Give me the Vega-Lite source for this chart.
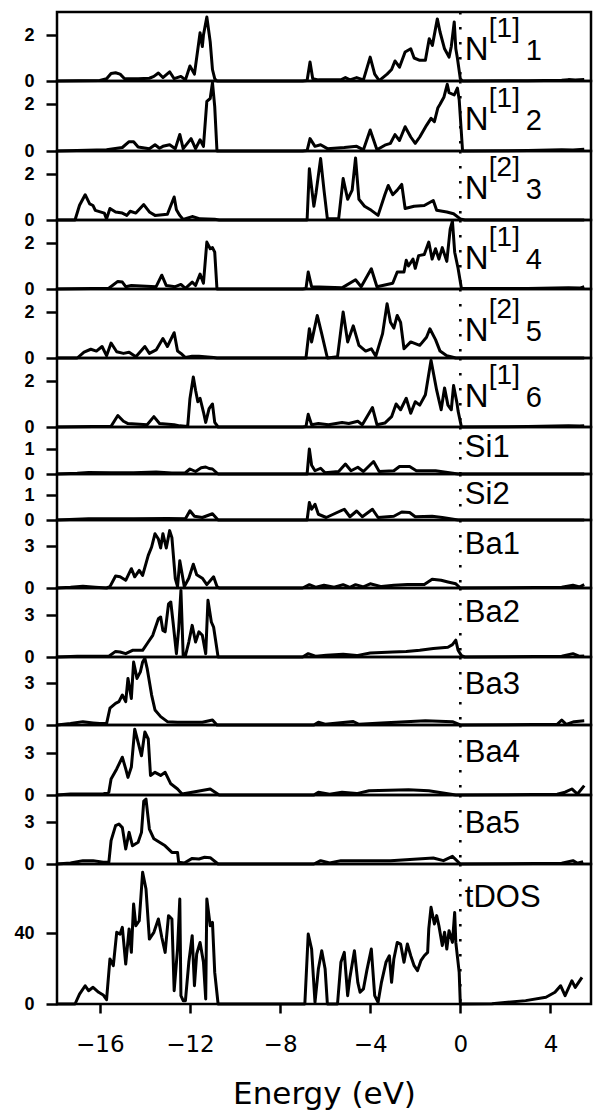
{
"$schema": "https://vega.github.io/schema/vega-lite/v6.json",
"padding": {"left": 12, "top": 9, "right": 2, "bottom": 0},
"background": "white",
"datasets": {
"labels": [
{"p":"N1","base":"N","sup":"[1]","sub":"1"},
{"p":"N2","base":"N","sup":"[1]","sub":"2"},
{"p":"N3","base":"N","sup":"[2]","sub":"3"},
{"p":"N4","base":"N","sup":"[1]","sub":"4"},
{"p":"N5","base":"N","sup":"[2]","sub":"5"},
{"p":"N6","base":"N","sup":"[1]","sub":"6"},
{"p":"Si1","base":"Si1"},
{"p":"Si2","base":"Si2"},
{"p":"Ba1","base":"Ba1"},
{"p":"Ba2","base":"Ba2"},
{"p":"Ba3","base":"Ba3"},
{"p":"Ba4","base":"Ba4"},
{"p":"Ba5","base":"Ba5"},
{"p":"tDOS","base":"tDOS"}
],
"N1": [{"e":-17.9,"v":0},{"e":-16.0,"v":0.02},{"e":-15.7,"v":0.1},{"e":-15.5,"v":0.33},{"e":-15.3,"v":0.36},{"e":-15.1,"v":0.3},{"e":-14.9,"v":0.1},{"e":-14.3,"v":0.1},{"e":-13.8,"v":0.12},{"e":-13.6,"v":0.2},{"e":-13.4,"v":0.35},{"e":-13.2,"v":0.15},{"e":-12.9,"v":0.4},{"e":-12.7,"v":0.1},{"e":-12.4,"v":0.2},{"e":-12.2,"v":0.05},{"e":-12.0,"v":0.65},{"e":-11.8,"v":0.3},{"e":-11.55,"v":2.1},{"e":-11.45,"v":1.5},{"e":-11.4,"v":2.0},{"e":-11.25,"v":2.78},{"e":-11.1,"v":1.7},{"e":-11.0,"v":0.5},{"e":-10.9,"v":0.1},{"e":-10.8,"v":0},{"e":-7.0,"v":0},{"e":-6.8,"v":0.02},{"e":-6.67,"v":0.83},{"e":-6.55,"v":0.1},{"e":-6.3,"v":0.05},{"e":-5.3,"v":0.05},{"e":-5.1,"v":0.15},{"e":-4.9,"v":0.05},{"e":-4.6,"v":0.15},{"e":-4.3,"v":0.05},{"e":-4.0,"v":1.04},{"e":-3.8,"v":0.3},{"e":-3.6,"v":0.02},{"e":-3.25,"v":0.3},{"e":-3.05,"v":0.5},{"e":-2.9,"v":0.87},{"e":-2.7,"v":0.6},{"e":-2.45,"v":1.26},{"e":-2.2,"v":1.4},{"e":-2.05,"v":1.0},{"e":-1.8,"v":0.9},{"e":-1.55,"v":0.9},{"e":-1.38,"v":1.84},{"e":-1.24,"v":1.55},{"e":-1.02,"v":2.7},{"e":-0.9,"v":2.13},{"e":-0.7,"v":1.4},{"e":-0.5,"v":1.04},{"e":-0.4,"v":1.5},{"e":-0.27,"v":2.57},{"e":-0.2,"v":1.4},{"e":-0.13,"v":1.0},{"e":0.0,"v":0.1},{"e":0.1,"v":0},{"e":3.0,"v":0.01},{"e":4.5,"v":0.03},{"e":4.8,"v":0.06},{"e":5.1,"v":0.04},{"e":5.5,"v":0.07}],
"N2": [{"e":-17.9,"v":0},{"e":-15.7,"v":0.05},{"e":-15.0,"v":0.15},{"e":-14.7,"v":0.4},{"e":-14.5,"v":0.4},{"e":-14.3,"v":0.17},{"e":-13.8,"v":0.1},{"e":-13.55,"v":0.27},{"e":-13.35,"v":0.12},{"e":-13.2,"v":0.2},{"e":-12.9,"v":0.27},{"e":-12.65,"v":0.1},{"e":-12.45,"v":0.71},{"e":-12.3,"v":0.1},{"e":-11.95,"v":0.53},{"e":-11.75,"v":0.1},{"e":-11.55,"v":0.48},{"e":-11.4,"v":0.2},{"e":-11.25,"v":2.13},{"e":-11.1,"v":2.25},{"e":-11.0,"v":2.93},{"e":-10.9,"v":1.9},{"e":-10.8,"v":0},{"e":-7.0,"v":0},{"e":-6.8,"v":0.02},{"e":-6.67,"v":0.53},{"e":-6.45,"v":0.2},{"e":-6.2,"v":0.27},{"e":-5.9,"v":0.1},{"e":-5.15,"v":0.15},{"e":-4.6,"v":0.2},{"e":-4.3,"v":0.05},{"e":-4.0,"v":0.9},{"e":-3.7,"v":0.05},{"e":-3.35,"v":0.25},{"e":-3.1,"v":0.33},{"e":-2.9,"v":0.7},{"e":-2.7,"v":0.45},{"e":-2.45,"v":1.04},{"e":-2.2,"v":0.6},{"e":-2.0,"v":0.33},{"e":-1.8,"v":0.6},{"e":-1.5,"v":1.1},{"e":-1.3,"v":1.4},{"e":-1.15,"v":1.26},{"e":-1.0,"v":1.84},{"e":-0.9,"v":2.0},{"e":-0.73,"v":2.3},{"e":-0.58,"v":2.86},{"e":-0.5,"v":2.5},{"e":-0.27,"v":2.4},{"e":-0.13,"v":2.7},{"e":-0.05,"v":2.2},{"e":0.1,"v":0},{"e":3.0,"v":0.02},{"e":4.5,"v":0.05},{"e":5.0,"v":0.04},{"e":5.5,"v":0.07}],
"N3": [{"e":-17.9,"v":0},{"e":-17.1,"v":0},{"e":-16.9,"v":0.64},{"e":-16.65,"v":1.1},{"e":-16.45,"v":0.7},{"e":-16.3,"v":0.63},{"e":-16.2,"v":0.42},{"e":-15.8,"v":0.3},{"e":-15.7,"v":0.05},{"e":-15.55,"v":0.5},{"e":-15.3,"v":0.35},{"e":-15.0,"v":0.3},{"e":-14.8,"v":0.2},{"e":-14.65,"v":0.38},{"e":-14.4,"v":0.3},{"e":-14.05,"v":0.67},{"e":-13.8,"v":0.35},{"e":-13.55,"v":0.2},{"e":-13.0,"v":0.25},{"e":-12.7,"v":1.0},{"e":-12.6,"v":0.45},{"e":-12.45,"v":0.2},{"e":-12.3,"v":0.02},{"e":-11.9,"v":0.15},{"e":-11.55,"v":0.05},{"e":-10.9,"v":0.03},{"e":-10.7,"v":0},{"e":-6.8,"v":0},{"e":-6.7,"v":2.23},{"e":-6.5,"v":0.6},{"e":-6.4,"v":1.2},{"e":-6.2,"v":2.67},{"e":-6.05,"v":1.3},{"e":-5.9,"v":0.05},{"e":-5.4,"v":0.05},{"e":-5.2,"v":1.8},{"e":-5.0,"v":0.9},{"e":-4.8,"v":1.3},{"e":-4.65,"v":2.7},{"e":-4.5,"v":0.9},{"e":-4.25,"v":0.6},{"e":-3.95,"v":0.42},{"e":-3.65,"v":0.2},{"e":-3.35,"v":1.1},{"e":-3.2,"v":1.5},{"e":-3.0,"v":1.1},{"e":-2.8,"v":1.3},{"e":-2.6,"v":1.55},{"e":-2.45,"v":0.5},{"e":-2.05,"v":0.6},{"e":-1.6,"v":0.63},{"e":-1.2,"v":0.85},{"e":-1.05,"v":0.42},{"e":-0.6,"v":0.35},{"e":-0.3,"v":0.27},{"e":0.0,"v":0.05},{"e":0.2,"v":0},{"e":5.5,"v":0}],
"N4": [{"e":-17.9,"v":0},{"e":-15.6,"v":0.03},{"e":-15.2,"v":0.33},{"e":-15.0,"v":0.3},{"e":-14.85,"v":0.1},{"e":-14.6,"v":0.15},{"e":-13.5,"v":0.1},{"e":-13.25,"v":0.6},{"e":-13.05,"v":0.15},{"e":-12.65,"v":0.1},{"e":-12.4,"v":0.2},{"e":-12.2,"v":0.03},{"e":-11.9,"v":0.3},{"e":-11.75,"v":0.15},{"e":-11.55,"v":0.65},{"e":-11.4,"v":0.25},{"e":-11.25,"v":2.04},{"e":-11.1,"v":1.75},{"e":-11.0,"v":1.8},{"e":-10.9,"v":1.6},{"e":-10.8,"v":0},{"e":-7.0,"v":0},{"e":-6.85,"v":0.02},{"e":-6.75,"v":0.74},{"e":-6.6,"v":0.1},{"e":-5.25,"v":0.05},{"e":-4.65,"v":0.4},{"e":-4.4,"v":0.1},{"e":-3.95,"v":0.88},{"e":-3.7,"v":0.1},{"e":-3.0,"v":0.25},{"e":-2.8,"v":0.74},{"e":-2.5,"v":0.74},{"e":-2.4,"v":1.25},{"e":-2.3,"v":1.0},{"e":-2.1,"v":1.3},{"e":-2.0,"v":0.9},{"e":-1.85,"v":1.45},{"e":-1.6,"v":1.5},{"e":-1.4,"v":2.04},{"e":-1.25,"v":1.3},{"e":-1.1,"v":1.75},{"e":-0.95,"v":1.3},{"e":-0.8,"v":1.8},{"e":-0.6,"v":1.2},{"e":-0.45,"v":2.6},{"e":-0.35,"v":2.95},{"e":-0.25,"v":1.6},{"e":-0.1,"v":0.9},{"e":0.05,"v":0.02},{"e":3.0,"v":0.02},{"e":4.8,"v":0.05},{"e":5.3,"v":0.04},{"e":5.5,"v":0.1}],
"N5": [{"e":-17.9,"v":0},{"e":-17.0,"v":0},{"e":-16.7,"v":0.26},{"e":-16.4,"v":0.38},{"e":-16.15,"v":0.3},{"e":-15.9,"v":0.5},{"e":-15.7,"v":0.1},{"e":-15.5,"v":0.65},{"e":-15.25,"v":0.27},{"e":-14.95,"v":0.2},{"e":-14.7,"v":0.25},{"e":-14.4,"v":0.05},{"e":-14.0,"v":0.5},{"e":-13.8,"v":0.2},{"e":-13.5,"v":0.35},{"e":-13.2,"v":0.85},{"e":-13.0,"v":0.5},{"e":-12.7,"v":1.1},{"e":-12.55,"v":0.3},{"e":-12.4,"v":0.2},{"e":-12.2,"v":0.02},{"e":-11.9,"v":0.08},{"e":-11.6,"v":0.08},{"e":-10.95,"v":0.02},{"e":-10.8,"v":0},{"e":-6.85,"v":0},{"e":-6.7,"v":1.27},{"e":-6.6,"v":0.7},{"e":-6.35,"v":1.85},{"e":-6.15,"v":1.05},{"e":-5.9,"v":0},{"e":-5.45,"v":0.05},{"e":-5.2,"v":2.0},{"e":-5.0,"v":0.7},{"e":-4.75,"v":1.4},{"e":-4.5,"v":0.55},{"e":-4.2,"v":0.3},{"e":-3.95,"v":0.4},{"e":-3.75,"v":0.08},{"e":-3.45,"v":1.06},{"e":-3.25,"v":2.36},{"e":-3.1,"v":1.55},{"e":-2.95,"v":1.3},{"e":-2.8,"v":1.85},{"e":-2.65,"v":1.55},{"e":-2.5,"v":0.4},{"e":-2.2,"v":0.7},{"e":-1.8,"v":0.55},{"e":-1.5,"v":0.9},{"e":-1.35,"v":1.27},{"e":-1.1,"v":0.8},{"e":-0.9,"v":0.3},{"e":-0.6,"v":0.1},{"e":-0.2,"v":0},{"e":5.5,"v":0}],
"N6": [{"e":-17.9,"v":0},{"e":-15.5,"v":0.03},{"e":-15.2,"v":0.5},{"e":-14.95,"v":0.25},{"e":-14.75,"v":0.15},{"e":-13.9,"v":0.1},{"e":-13.6,"v":0.45},{"e":-13.35,"v":0.15},{"e":-12.7,"v":0.1},{"e":-12.45,"v":0.05},{"e":-12.1,"v":0.02},{"e":-12.0,"v":1.23},{"e":-11.85,"v":2.17},{"e":-11.75,"v":1.6},{"e":-11.65,"v":1.1},{"e":-11.55,"v":1.25},{"e":-11.4,"v":0.65},{"e":-11.3,"v":0.2},{"e":-11.15,"v":0.8},{"e":-11.0,"v":1.0},{"e":-10.9,"v":0.2},{"e":-10.75,"v":0},{"e":-7.0,"v":0},{"e":-6.85,"v":0.02},{"e":-6.75,"v":0.55},{"e":-6.6,"v":0.1},{"e":-6.3,"v":0.15},{"e":-5.85,"v":0.1},{"e":-5.25,"v":0.2},{"e":-4.95,"v":0.15},{"e":-4.55,"v":0.25},{"e":-4.35,"v":0.1},{"e":-3.9,"v":0.85},{"e":-3.7,"v":0.1},{"e":-3.35,"v":0.17},{"e":-3.05,"v":0.45},{"e":-2.85,"v":1.0},{"e":-2.65,"v":0.75},{"e":-2.4,"v":1.25},{"e":-2.2,"v":0.6},{"e":-2.0,"v":1.1},{"e":-1.8,"v":0.95},{"e":-1.55,"v":1.4},{"e":-1.3,"v":2.9},{"e":-1.05,"v":1.6},{"e":-0.85,"v":0.75},{"e":-0.7,"v":1.7},{"e":-0.55,"v":0.95},{"e":-0.4,"v":0.75},{"e":-0.3,"v":1.8},{"e":-0.15,"v":1.05},{"e":-0.1,"v":0.7},{"e":0.05,"v":0},{"e":3.0,"v":0.02},{"e":4.8,"v":0.05},{"e":5.3,"v":0.04},{"e":5.5,"v":0.06}],
"Si1": [{"e":-17.9,"v":0},{"e":-17.0,"v":0.03},{"e":-16.5,"v":0.06},{"e":-15.5,"v":0.05},{"e":-14.5,"v":0.05},{"e":-13.5,"v":0.08},{"e":-12.8,"v":0.04},{"e":-12.2,"v":0.05},{"e":-12.0,"v":0.2},{"e":-11.75,"v":0.1},{"e":-11.5,"v":0.25},{"e":-11.3,"v":0.28},{"e":-11.15,"v":0.22},{"e":-11.0,"v":0.2},{"e":-10.75,"v":0},{"e":-6.8,"v":0},{"e":-6.7,"v":1.0},{"e":-6.6,"v":0.35},{"e":-6.45,"v":0.13},{"e":-6.2,"v":0.23},{"e":-6.0,"v":0.05},{"e":-5.4,"v":0.1},{"e":-5.1,"v":0.4},{"e":-4.85,"v":0.13},{"e":-4.55,"v":0.27},{"e":-4.3,"v":0.1},{"e":-3.85,"v":0.5},{"e":-3.6,"v":0.1},{"e":-2.95,"v":0.13},{"e":-2.7,"v":0.3},{"e":-2.25,"v":0.3},{"e":-1.95,"v":0.13},{"e":-1.1,"v":0.13},{"e":-0.1,"v":0},{"e":5.5,"v":0}],
"Si2": [{"e":-17.9,"v":0},{"e":-16.5,"v":0.05},{"e":-14.5,"v":0.05},{"e":-13.0,"v":0.06},{"e":-12.2,"v":0.05},{"e":-12.0,"v":0.37},{"e":-11.8,"v":0.15},{"e":-11.45,"v":0.1},{"e":-11.0,"v":0.25},{"e":-10.75,"v":0},{"e":-6.8,"v":0},{"e":-6.7,"v":0.7},{"e":-6.6,"v":0.43},{"e":-6.45,"v":0.63},{"e":-6.3,"v":0.23},{"e":-5.95,"v":0.1},{"e":-5.15,"v":0.43},{"e":-4.9,"v":0.13},{"e":-4.6,"v":0.36},{"e":-4.35,"v":0.13},{"e":-3.9,"v":0.43},{"e":-3.65,"v":0.1},{"e":-2.95,"v":0.15},{"e":-2.6,"v":0.32},{"e":-2.25,"v":0.3},{"e":-2.0,"v":0.13},{"e":-1.25,"v":0.15},{"e":-0.8,"v":0.1},{"e":-0.1,"v":0},{"e":5.5,"v":0}],
"Ba1": [{"e":-17.9,"v":0},{"e":-17.3,"v":0.05},{"e":-16.75,"v":0.12},{"e":-16.2,"v":0.05},{"e":-15.7,"v":0},{"e":-15.55,"v":0.1},{"e":-15.3,"v":0.86},{"e":-15.1,"v":0.8},{"e":-14.85,"v":0.55},{"e":-14.6,"v":1.38},{"e":-14.45,"v":0.8},{"e":-14.25,"v":1.26},{"e":-14.1,"v":0.9},{"e":-13.85,"v":2.33},{"e":-13.7,"v":2.93},{"e":-13.55,"v":3.88},{"e":-13.4,"v":3.5},{"e":-13.3,"v":2.86},{"e":-13.2,"v":3.88},{"e":-13.05,"v":2.86},{"e":-12.9,"v":4.1},{"e":-12.8,"v":3.6},{"e":-12.65,"v":0.67},{"e":-12.55,"v":0.1},{"e":-12.45,"v":1.95},{"e":-12.25,"v":0.1},{"e":-12.05,"v":0.7},{"e":-11.85,"v":1.7},{"e":-11.7,"v":0.95},{"e":-11.45,"v":0.7},{"e":-11.25,"v":0.24},{"e":-10.95,"v":0.8},{"e":-10.8,"v":0.1},{"e":-10.7,"v":0},{"e":-7.0,"v":0},{"e":-6.7,"v":0.24},{"e":-6.4,"v":0.05},{"e":-6.05,"v":0.2},{"e":-5.6,"v":0.05},{"e":-5.2,"v":0.24},{"e":-4.9,"v":0.05},{"e":-4.65,"v":0.24},{"e":-4.3,"v":0.08},{"e":-4.0,"v":0.3},{"e":-3.5,"v":0.1},{"e":-2.95,"v":0.2},{"e":-2.35,"v":0.25},{"e":-1.6,"v":0.25},{"e":-1.25,"v":0.62},{"e":-0.85,"v":0.55},{"e":-0.55,"v":0.43},{"e":-0.2,"v":0.3},{"e":0.0,"v":0},{"e":4.5,"v":0.05},{"e":5.0,"v":0.2},{"e":5.3,"v":0.08},{"e":5.5,"v":0.24}],
"Ba2": [{"e":-17.9,"v":0},{"e":-17.0,"v":0.05},{"e":-15.6,"v":0.05},{"e":-15.3,"v":0.4},{"e":-15.1,"v":0.36},{"e":-14.85,"v":0.24},{"e":-14.55,"v":0.48},{"e":-14.1,"v":0.48},{"e":-13.85,"v":1.07},{"e":-13.65,"v":1.55},{"e":-13.4,"v":2.74},{"e":-13.3,"v":2.86},{"e":-13.2,"v":1.9},{"e":-13.1,"v":1.8},{"e":-12.95,"v":3.8},{"e":-12.85,"v":3.93},{"e":-12.75,"v":2.5},{"e":-12.6,"v":0.24},{"e":-12.5,"v":2.0},{"e":-12.4,"v":4.76},{"e":-12.3,"v":0.1},{"e":-12.2,"v":0.1},{"e":-12.05,"v":1.07},{"e":-11.9,"v":2.26},{"e":-11.75,"v":1.07},{"e":-11.6,"v":1.8},{"e":-11.45,"v":1.55},{"e":-11.3,"v":0.24},{"e":-11.2,"v":4.05},{"e":-11.05,"v":2.5},{"e":-10.95,"v":2.14},{"e":-10.75,"v":0},{"e":-7.0,"v":0},{"e":-6.75,"v":0.24},{"e":-6.4,"v":0.05},{"e":-5.95,"v":0.12},{"e":-5.2,"v":0.2},{"e":-4.6,"v":0.1},{"e":-4.0,"v":0.29},{"e":-3.0,"v":0.36},{"e":-2.4,"v":0.4},{"e":-1.8,"v":0.48},{"e":-1.2,"v":0.6},{"e":-0.55,"v":0.7},{"e":-0.35,"v":0.88},{"e":-0.2,"v":1.2},{"e":-0.1,"v":0.48},{"e":0.05,"v":0.1},{"e":0.2,"v":0},{"e":4.5,"v":0.05},{"e":5.0,"v":0.24},{"e":5.3,"v":0.05},{"e":5.5,"v":0.08}],
"Ba3": [{"e":-17.9,"v":0},{"e":-17.3,"v":0.1},{"e":-16.75,"v":0.24},{"e":-16.3,"v":0.15},{"e":-16.0,"v":0.1},{"e":-15.7,"v":0.1},{"e":-15.55,"v":1.2},{"e":-15.3,"v":1.55},{"e":-15.15,"v":1.67},{"e":-15.0,"v":2.14},{"e":-14.85,"v":1.67},{"e":-14.75,"v":3.33},{"e":-14.6,"v":1.9},{"e":-14.5,"v":4.5},{"e":-14.35,"v":3.33},{"e":-14.2,"v":3.8},{"e":-14.1,"v":4.5},{"e":-14.0,"v":4.76},{"e":-13.9,"v":4.05},{"e":-13.7,"v":2.14},{"e":-13.55,"v":1.07},{"e":-13.3,"v":0.6},{"e":-13.0,"v":0.24},{"e":-12.55,"v":0.2},{"e":-11.9,"v":0.2},{"e":-11.45,"v":0.2},{"e":-11.0,"v":0.36},{"e":-10.8,"v":0},{"e":-6.5,"v":0},{"e":-6.3,"v":0.2},{"e":-6.0,"v":0.05},{"e":-4.75,"v":0.25},{"e":-4.5,"v":0.05},{"e":-3.5,"v":0.15},{"e":-1.55,"v":0.3},{"e":-0.35,"v":0.24},{"e":0.0,"v":0},{"e":4.3,"v":0.05},{"e":4.5,"v":0.36},{"e":4.7,"v":0.05},{"e":5.05,"v":0.24},{"e":5.5,"v":0.3}],
"Ba4": [{"e":-17.9,"v":0},{"e":-17.3,"v":0.07},{"e":-15.85,"v":0.07},{"e":-15.6,"v":0.2},{"e":-15.5,"v":1.14},{"e":-15.25,"v":1.86},{"e":-15.0,"v":2.7},{"e":-14.85,"v":1.86},{"e":-14.75,"v":1.26},{"e":-14.6,"v":2.0},{"e":-14.45,"v":4.7},{"e":-14.3,"v":3.76},{"e":-14.15,"v":2.8},{"e":-14.0,"v":4.5},{"e":-13.85,"v":4.0},{"e":-13.75,"v":1.4},{"e":-13.55,"v":1.62},{"e":-13.3,"v":1.4},{"e":-13.1,"v":1.62},{"e":-12.85,"v":0.8},{"e":-12.55,"v":0.43},{"e":-12.35,"v":0.07},{"e":-11.9,"v":0.2},{"e":-11.1,"v":0.43},{"e":-10.7,"v":0},{"e":-6.5,"v":0},{"e":-6.3,"v":0.2},{"e":-5.8,"v":0.05},{"e":-5.25,"v":0.2},{"e":-4.6,"v":0.1},{"e":-4.05,"v":0.3},{"e":-2.3,"v":0.38},{"e":-1.4,"v":0.3},{"e":-0.2,"v":0},{"e":4.3,"v":0.05},{"e":4.65,"v":0.2},{"e":4.95,"v":0.43},{"e":5.2,"v":0.07},{"e":5.5,"v":0.67}],
"Ba5": [{"e":-17.9,"v":0},{"e":-17.3,"v":0.07},{"e":-16.75,"v":0.24},{"e":-16.3,"v":0.24},{"e":-15.85,"v":0.12},{"e":-15.6,"v":0.12},{"e":-15.5,"v":1.67},{"e":-15.3,"v":2.74},{"e":-15.15,"v":2.86},{"e":-15.0,"v":2.6},{"e":-14.85,"v":1.07},{"e":-14.7,"v":2.26},{"e":-14.55,"v":1.3},{"e":-14.3,"v":1.55},{"e":-14.15,"v":2.26},{"e":-14.05,"v":4.5},{"e":-13.95,"v":4.64},{"e":-13.8,"v":2.5},{"e":-13.6,"v":1.8},{"e":-13.35,"v":1.55},{"e":-13.1,"v":1.3},{"e":-12.8,"v":0.83},{"e":-12.55,"v":0.83},{"e":-12.5,"v":0.12},{"e":-12.25,"v":0.07},{"e":-11.9,"v":0.4},{"e":-11.6,"v":0.36},{"e":-11.35,"v":0.48},{"e":-11.1,"v":0.45},{"e":-10.75,"v":0},{"e":-6.5,"v":0},{"e":-6.2,"v":0.24},{"e":-5.8,"v":0.07},{"e":-5.3,"v":0.24},{"e":-4.75,"v":0.24},{"e":-3.1,"v":0.24},{"e":-1.2,"v":0.43},{"e":-0.75,"v":0.24},{"e":-0.35,"v":0.55},{"e":0.0,"v":0},{"e":4.5,"v":0.05},{"e":5.0,"v":0.24},{"e":5.2,"v":0.05},{"e":5.45,"v":0.17}],
"tDOS": [{"e":-17.9,"v":0},{"e":-17.1,"v":0},{"e":-16.9,"v":5.6},{"e":-16.65,"v":10.3},{"e":-16.5,"v":7.5},{"e":-16.3,"v":9.4},{"e":-16.05,"v":6.6},{"e":-15.85,"v":5.1},{"e":-15.7,"v":2.4},{"e":-15.55,"v":25.4},{"e":-15.4,"v":21.6},{"e":-15.25,"v":40.4},{"e":-15.1,"v":39.4},{"e":-15.0,"v":43.2},{"e":-14.85,"v":22.5},{"e":-14.7,"v":42.3},{"e":-14.6,"v":29.1},{"e":-14.5,"v":56.3},{"e":-14.4,"v":44.1},{"e":-14.25,"v":46.9},{"e":-14.1,"v":74.2},{"e":-13.95,"v":64.8},{"e":-13.8,"v":36.6},{"e":-13.6,"v":40.4},{"e":-13.4,"v":47.9},{"e":-13.25,"v":37.6},{"e":-13.1,"v":29.1},{"e":-12.95,"v":49.8},{"e":-12.8,"v":47.9},{"e":-12.7,"v":7.5},{"e":-12.55,"v":31.0},{"e":-12.45,"v":59.2},{"e":-12.4,"v":4.7},{"e":-12.3,"v":1.9},{"e":-12.2,"v":1.9},{"e":-12.05,"v":23.5},{"e":-11.9,"v":38.5},{"e":-11.8,"v":10.3},{"e":-11.7,"v":28.2},{"e":-11.55,"v":34.7},{"e":-11.4,"v":23.5},{"e":-11.3,"v":2.8},{"e":-11.25,"v":59.2},{"e":-11.1,"v":44.1},{"e":-11.0,"v":46.0},{"e":-10.9,"v":17.8},{"e":-10.75,"v":0},{"e":-6.9,"v":0},{"e":-6.75,"v":39.4},{"e":-6.6,"v":31.0},{"e":-6.45,"v":1},{"e":-6.3,"v":19.7},{"e":-6.15,"v":30.0},{"e":-6.0,"v":19.7},{"e":-5.9,"v":0},{"e":-5.45,"v":0},{"e":-5.3,"v":23.5},{"e":-5.15,"v":29.1},{"e":-5.0,"v":4.7},{"e":-4.9,"v":15.0},{"e":-4.7,"v":30.0},{"e":-4.55,"v":12.2},{"e":-4.45,"v":6.6},{"e":-4.3,"v":8.5},{"e":-4.15,"v":18.8},{"e":-3.95,"v":31.0},{"e":-3.8,"v":4.7},{"e":-3.65,"v":1},{"e":-3.5,"v":12.2},{"e":-3.3,"v":23.5},{"e":-3.15,"v":27.2},{"e":-3.05,"v":12.2},{"e":-2.95,"v":25.4},{"e":-2.8,"v":34.7},{"e":-2.65,"v":33.8},{"e":-2.5,"v":23.5},{"e":-2.35,"v":33.8},{"e":-2.2,"v":27.2},{"e":-2.05,"v":21.6},{"e":-1.9,"v":18.8},{"e":-1.75,"v":24.4},{"e":-1.6,"v":27.2},{"e":-1.45,"v":29.1},{"e":-1.4,"v":42.3},{"e":-1.3,"v":54.5},{"e":-1.15,"v":45.1},{"e":-1.05,"v":49.8},{"e":-0.95,"v":44.1},{"e":-0.8,"v":32.9},{"e":-0.7,"v":40.4},{"e":-0.6,"v":31.0},{"e":-0.5,"v":41.3},{"e":-0.35,"v":34.7},{"e":-0.25,"v":51.6},{"e":-0.2,"v":34.7},{"e":-0.05,"v":17.8},{"e":0.0,"v":0},{"e":1.4,"v":0.2},{"e":2.9,"v":1.9},{"e":3.8,"v":3.8},{"e":4.2,"v":6.6},{"e":4.45,"v":10.3},{"e":4.65,"v":4.7},{"e":4.95,"v":13.1},{"e":5.1,"v":9.4},{"e":5.4,"v":15.0}]
},
"vconcat": [
{"width":534,"height":69,"layer":[
 {"data":{"name":"N1"},"mark":{"type":"line","color":"black","strokeWidth":3,"strokeJoin":"round"},"encoding":{"x":{"field":"e","type":"quantitative","scale":{"domain":[-17.9,5.8],"nice":false,"zero":false},"axis":null},"y":{"field":"v","type":"quantitative","scale":{"domain":[0,3],"nice":false},"axis":{"values":[0,2]}}}},
 {"data":{"name":"labels"},"transform":[{"filter":"datum.p==='N1'"}],"mark":{"type":"rule","color":"black","strokeWidth":2.6,"strokeDash":[2.6,12.4]},"encoding":{"x":{"datum":0,"axis":null}}},
 {"data":{"name":"labels"},"transform":[{"filter":"datum.p==='N1'"}],"mark":{"type":"text","font":"Liberation Sans","fontSize":33,"align":"left","baseline":"alphabetic","color":"black"},"encoding":{"x":{"datum":0.2,"axis":null},"y":{"datum":0.9},"text":{"field":"base"}}},
 {"data":{"name":"labels"},"transform":[{"filter":"datum.p==='N1'"}],"mark":{"type":"text","font":"Liberation Sans","fontSize":28,"align":"left","baseline":"alphabetic","dx":24,"dy":-23,"color":"black"},"encoding":{"x":{"datum":0.2,"axis":null},"y":{"datum":0.9},"text":{"field":"sup"}}},
 {"data":{"name":"labels"},"transform":[{"filter":"datum.p==='N1'"}],"mark":{"type":"text","font":"Liberation Sans","fontSize":29,"align":"left","baseline":"alphabetic","dx":61,"color":"black"},"encoding":{"x":{"datum":0.2,"axis":null},"y":{"datum":0.9},"text":{"field":"sub"}}}
]},
{"width":534,"height":70,"layer":[
 {"data":{"name":"N2"},"mark":{"type":"line","color":"black","strokeWidth":3,"strokeJoin":"round"},"encoding":{"x":{"field":"e","type":"quantitative","scale":{"domain":[-17.9,5.8],"nice":false,"zero":false},"axis":null},"y":{"field":"v","type":"quantitative","scale":{"domain":[0,3],"nice":false},"axis":{"values":[0,2]}}}},
 {"data":{"name":"labels"},"transform":[{"filter":"datum.p==='N2'"}],"mark":{"type":"rule","color":"black","strokeWidth":2.6,"strokeDash":[2.6,12.4]},"encoding":{"x":{"datum":0,"axis":null}}},
 {"data":{"name":"labels"},"transform":[{"filter":"datum.p==='N2'"}],"mark":{"type":"text","font":"Liberation Sans","fontSize":33,"align":"left","baseline":"alphabetic","color":"black"},"encoding":{"x":{"datum":0.2,"axis":null},"y":{"datum":0.9},"text":{"field":"base"}}},
 {"data":{"name":"labels"},"transform":[{"filter":"datum.p==='N2'"}],"mark":{"type":"text","font":"Liberation Sans","fontSize":28,"align":"left","baseline":"alphabetic","dx":24,"dy":-23,"color":"black"},"encoding":{"x":{"datum":0.2,"axis":null},"y":{"datum":0.9},"text":{"field":"sup"}}},
 {"data":{"name":"labels"},"transform":[{"filter":"datum.p==='N2'"}],"mark":{"type":"text","font":"Liberation Sans","fontSize":29,"align":"left","baseline":"alphabetic","dx":61,"color":"black"},"encoding":{"x":{"datum":0.2,"axis":null},"y":{"datum":0.9},"text":{"field":"sub"}}}
]},
{"width":534,"height":69,"layer":[
 {"data":{"name":"N3"},"mark":{"type":"line","color":"black","strokeWidth":3,"strokeJoin":"round"},"encoding":{"x":{"field":"e","type":"quantitative","scale":{"domain":[-17.9,5.8],"nice":false,"zero":false},"axis":null},"y":{"field":"v","type":"quantitative","scale":{"domain":[0,3],"nice":false},"axis":{"values":[0,2]}}}},
 {"data":{"name":"labels"},"transform":[{"filter":"datum.p==='N3'"}],"mark":{"type":"rule","color":"black","strokeWidth":2.6,"strokeDash":[2.6,12.4]},"encoding":{"x":{"datum":0,"axis":null}}},
 {"data":{"name":"labels"},"transform":[{"filter":"datum.p==='N3'"}],"mark":{"type":"text","font":"Liberation Sans","fontSize":33,"align":"left","baseline":"alphabetic","color":"black"},"encoding":{"x":{"datum":0.2,"axis":null},"y":{"datum":0.9},"text":{"field":"base"}}},
 {"data":{"name":"labels"},"transform":[{"filter":"datum.p==='N3'"}],"mark":{"type":"text","font":"Liberation Sans","fontSize":28,"align":"left","baseline":"alphabetic","dx":24,"dy":-23,"color":"black"},"encoding":{"x":{"datum":0.2,"axis":null},"y":{"datum":0.9},"text":{"field":"sup"}}},
 {"data":{"name":"labels"},"transform":[{"filter":"datum.p==='N3'"}],"mark":{"type":"text","font":"Liberation Sans","fontSize":29,"align":"left","baseline":"alphabetic","dx":61,"color":"black"},"encoding":{"x":{"datum":0.2,"axis":null},"y":{"datum":0.9},"text":{"field":"sub"}}}
]},
{"width":534,"height":69,"layer":[
 {"data":{"name":"N4"},"mark":{"type":"line","color":"black","strokeWidth":3,"strokeJoin":"round"},"encoding":{"x":{"field":"e","type":"quantitative","scale":{"domain":[-17.9,5.8],"nice":false,"zero":false},"axis":null},"y":{"field":"v","type":"quantitative","scale":{"domain":[0,3],"nice":false},"axis":{"values":[0,2]}}}},
 {"data":{"name":"labels"},"transform":[{"filter":"datum.p==='N4'"}],"mark":{"type":"rule","color":"black","strokeWidth":2.6,"strokeDash":[2.6,12.4]},"encoding":{"x":{"datum":0,"axis":null}}},
 {"data":{"name":"labels"},"transform":[{"filter":"datum.p==='N4'"}],"mark":{"type":"text","font":"Liberation Sans","fontSize":33,"align":"left","baseline":"alphabetic","color":"black"},"encoding":{"x":{"datum":0.2,"axis":null},"y":{"datum":0.87},"text":{"field":"base"}}},
 {"data":{"name":"labels"},"transform":[{"filter":"datum.p==='N4'"}],"mark":{"type":"text","font":"Liberation Sans","fontSize":28,"align":"left","baseline":"alphabetic","dx":24,"dy":-23,"color":"black"},"encoding":{"x":{"datum":0.2,"axis":null},"y":{"datum":0.87},"text":{"field":"sup"}}},
 {"data":{"name":"labels"},"transform":[{"filter":"datum.p==='N4'"}],"mark":{"type":"text","font":"Liberation Sans","fontSize":29,"align":"left","baseline":"alphabetic","dx":61,"color":"black"},"encoding":{"x":{"datum":0.2,"axis":null},"y":{"datum":0.87},"text":{"field":"sub"}}}
]},
{"width":534,"height":69,"layer":[
 {"data":{"name":"N5"},"mark":{"type":"line","color":"black","strokeWidth":3,"strokeJoin":"round"},"encoding":{"x":{"field":"e","type":"quantitative","scale":{"domain":[-17.9,5.8],"nice":false,"zero":false},"axis":null},"y":{"field":"v","type":"quantitative","scale":{"domain":[0,3],"nice":false},"axis":{"values":[0,2]}}}},
 {"data":{"name":"labels"},"transform":[{"filter":"datum.p==='N5'"}],"mark":{"type":"rule","color":"black","strokeWidth":2.6,"strokeDash":[2.6,12.4]},"encoding":{"x":{"datum":0,"axis":null}}},
 {"data":{"name":"labels"},"transform":[{"filter":"datum.p==='N5'"}],"mark":{"type":"text","font":"Liberation Sans","fontSize":33,"align":"left","baseline":"alphabetic","color":"black"},"encoding":{"x":{"datum":0.2,"axis":null},"y":{"datum":0.72},"text":{"field":"base"}}},
 {"data":{"name":"labels"},"transform":[{"filter":"datum.p==='N5'"}],"mark":{"type":"text","font":"Liberation Sans","fontSize":28,"align":"left","baseline":"alphabetic","dx":24,"dy":-23,"color":"black"},"encoding":{"x":{"datum":0.2,"axis":null},"y":{"datum":0.72},"text":{"field":"sup"}}},
 {"data":{"name":"labels"},"transform":[{"filter":"datum.p==='N5'"}],"mark":{"type":"text","font":"Liberation Sans","fontSize":29,"align":"left","baseline":"alphabetic","dx":61,"color":"black"},"encoding":{"x":{"datum":0.2,"axis":null},"y":{"datum":0.72},"text":{"field":"sub"}}}
]},
{"width":534,"height":69,"layer":[
 {"data":{"name":"N6"},"mark":{"type":"line","color":"black","strokeWidth":3,"strokeJoin":"round"},"encoding":{"x":{"field":"e","type":"quantitative","scale":{"domain":[-17.9,5.8],"nice":false,"zero":false},"axis":null},"y":{"field":"v","type":"quantitative","scale":{"domain":[0,3],"nice":false},"axis":{"values":[0,2]}}}},
 {"data":{"name":"labels"},"transform":[{"filter":"datum.p==='N6'"}],"mark":{"type":"rule","color":"black","strokeWidth":2.6,"strokeDash":[2.6,12.4]},"encoding":{"x":{"datum":0,"axis":null}}},
 {"data":{"name":"labels"},"transform":[{"filter":"datum.p==='N6'"}],"mark":{"type":"text","font":"Liberation Sans","fontSize":33,"align":"left","baseline":"alphabetic","color":"black"},"encoding":{"x":{"datum":0.2,"axis":null},"y":{"datum":0.87},"text":{"field":"base"}}},
 {"data":{"name":"labels"},"transform":[{"filter":"datum.p==='N6'"}],"mark":{"type":"text","font":"Liberation Sans","fontSize":28,"align":"left","baseline":"alphabetic","dx":24,"dy":-23,"color":"black"},"encoding":{"x":{"datum":0.2,"axis":null},"y":{"datum":0.87},"text":{"field":"sup"}}},
 {"data":{"name":"labels"},"transform":[{"filter":"datum.p==='N6'"}],"mark":{"type":"text","font":"Liberation Sans","fontSize":29,"align":"left","baseline":"alphabetic","dx":61,"color":"black"},"encoding":{"x":{"datum":0.2,"axis":null},"y":{"datum":0.87},"text":{"field":"sub"}}}
]},
{"width":534,"height":47,"layer":[
 {"data":{"name":"Si1"},"mark":{"type":"line","color":"black","strokeWidth":3,"strokeJoin":"round"},"encoding":{"x":{"field":"e","type":"quantitative","scale":{"domain":[-17.9,5.8],"nice":false,"zero":false},"axis":null},"y":{"field":"v","type":"quantitative","scale":{"domain":[0,1.88],"nice":false},"axis":{"values":[0,1]}}}},
 {"data":{"name":"labels"},"transform":[{"filter":"datum.p==='Si1'"}],"mark":{"type":"rule","color":"black","strokeWidth":2.6,"strokeDash":[2.6,12.4]},"encoding":{"x":{"datum":0,"axis":null}}},
 {"data":{"name":"labels"},"transform":[{"filter":"datum.p==='Si1'"}],"mark":{"type":"text","font":"Liberation Sans","fontSize":31,"align":"left","baseline":"alphabetic","color":"black"},"encoding":{"x":{"datum":0.2,"axis":null},"y":{"datum":0.68},"text":{"field":"base"}}}
]},
{"width":534,"height":46,"layer":[
 {"data":{"name":"Si2"},"mark":{"type":"line","color":"black","strokeWidth":3,"strokeJoin":"round"},"encoding":{"x":{"field":"e","type":"quantitative","scale":{"domain":[-17.9,5.8],"nice":false,"zero":false},"axis":null},"y":{"field":"v","type":"quantitative","scale":{"domain":[0,1.84],"nice":false},"axis":{"values":[0,1]}}}},
 {"data":{"name":"labels"},"transform":[{"filter":"datum.p==='Si2'"}],"mark":{"type":"rule","color":"black","strokeWidth":2.6,"strokeDash":[2.6,12.4]},"encoding":{"x":{"datum":0,"axis":null}}},
 {"data":{"name":"labels"},"transform":[{"filter":"datum.p==='Si2'"}],"mark":{"type":"text","font":"Liberation Sans","fontSize":31,"align":"left","baseline":"alphabetic","color":"black"},"encoding":{"x":{"datum":0.2,"axis":null},"y":{"datum":0.64},"text":{"field":"base"}}}
]},
{"width":534,"height":68,"layer":[
 {"data":{"name":"Ba1"},"mark":{"type":"line","color":"black","strokeWidth":3,"strokeJoin":"round"},"encoding":{"x":{"field":"e","type":"quantitative","scale":{"domain":[-17.9,5.8],"nice":false,"zero":false},"axis":null},"y":{"field":"v","type":"quantitative","scale":{"domain":[0,4.86],"nice":false},"axis":{"values":[0,3]}}}},
 {"data":{"name":"labels"},"transform":[{"filter":"datum.p==='Ba1'"}],"mark":{"type":"rule","color":"black","strokeWidth":2.6,"strokeDash":[2.6,12.4]},"encoding":{"x":{"datum":0,"axis":null}}},
 {"data":{"name":"labels"},"transform":[{"filter":"datum.p==='Ba1'"}],"mark":{"type":"text","font":"Liberation Sans","fontSize":31,"align":"left","baseline":"alphabetic","color":"black"},"encoding":{"x":{"datum":0.2,"axis":null},"y":{"datum":2.43},"text":{"field":"base"}}}
]},
{"width":534,"height":69,"layer":[
 {"data":{"name":"Ba2"},"mark":{"type":"line","color":"black","strokeWidth":3,"strokeJoin":"round"},"encoding":{"x":{"field":"e","type":"quantitative","scale":{"domain":[-17.9,5.8],"nice":false,"zero":false},"axis":null},"y":{"field":"v","type":"quantitative","scale":{"domain":[0,4.93],"nice":false},"axis":{"values":[0,3]}}}},
 {"data":{"name":"labels"},"transform":[{"filter":"datum.p==='Ba2'"}],"mark":{"type":"rule","color":"black","strokeWidth":2.6,"strokeDash":[2.6,12.4]},"encoding":{"x":{"datum":0,"axis":null}}},
 {"data":{"name":"labels"},"transform":[{"filter":"datum.p==='Ba2'"}],"mark":{"type":"text","font":"Liberation Sans","fontSize":31,"align":"left","baseline":"alphabetic","color":"black"},"encoding":{"x":{"datum":0.2,"axis":null},"y":{"datum":2.5},"text":{"field":"base"}}}
]},
{"width":534,"height":68,"layer":[
 {"data":{"name":"Ba3"},"mark":{"type":"line","color":"black","strokeWidth":3,"strokeJoin":"round"},"encoding":{"x":{"field":"e","type":"quantitative","scale":{"domain":[-17.9,5.8],"nice":false,"zero":false},"axis":null},"y":{"field":"v","type":"quantitative","scale":{"domain":[0,4.86],"nice":false},"axis":{"values":[0,3]}}}},
 {"data":{"name":"labels"},"transform":[{"filter":"datum.p==='Ba3'"}],"mark":{"type":"rule","color":"black","strokeWidth":2.6,"strokeDash":[2.6,12.4]},"encoding":{"x":{"datum":0,"axis":null}}},
 {"data":{"name":"labels"},"transform":[{"filter":"datum.p==='Ba3'"}],"mark":{"type":"text","font":"Liberation Sans","fontSize":31,"align":"left","baseline":"alphabetic","color":"black"},"encoding":{"x":{"datum":0.2,"axis":null},"y":{"datum":2.25},"text":{"field":"base"}}}
]},
{"width":534,"height":70,"layer":[
 {"data":{"name":"Ba4"},"mark":{"type":"line","color":"black","strokeWidth":3,"strokeJoin":"round"},"encoding":{"x":{"field":"e","type":"quantitative","scale":{"domain":[-17.9,5.8],"nice":false,"zero":false},"axis":null},"y":{"field":"v","type":"quantitative","scale":{"domain":[0,5.0],"nice":false},"axis":{"values":[0,3]}}}},
 {"data":{"name":"labels"},"transform":[{"filter":"datum.p==='Ba4'"}],"mark":{"type":"rule","color":"black","strokeWidth":2.6,"strokeDash":[2.6,12.4]},"encoding":{"x":{"datum":0,"axis":null}}},
 {"data":{"name":"labels"},"transform":[{"filter":"datum.p==='Ba4'"}],"mark":{"type":"text","font":"Liberation Sans","fontSize":31,"align":"left","baseline":"alphabetic","color":"black"},"encoding":{"x":{"datum":0.2,"axis":null},"y":{"datum":2.36},"text":{"field":"base"}}}
]},
{"width":534,"height":69,"layer":[
 {"data":{"name":"Ba5"},"mark":{"type":"line","color":"black","strokeWidth":3,"strokeJoin":"round"},"encoding":{"x":{"field":"e","type":"quantitative","scale":{"domain":[-17.9,5.8],"nice":false,"zero":false},"axis":null},"y":{"field":"v","type":"quantitative","scale":{"domain":[0,4.93],"nice":false},"axis":{"values":[0,3]}}}},
 {"data":{"name":"labels"},"transform":[{"filter":"datum.p==='Ba5'"}],"mark":{"type":"rule","color":"black","strokeWidth":2.6,"strokeDash":[2.6,12.4]},"encoding":{"x":{"datum":0,"axis":null}}},
 {"data":{"name":"labels"},"transform":[{"filter":"datum.p==='Ba5'"}],"mark":{"type":"text","font":"Liberation Sans","fontSize":31,"align":"left","baseline":"alphabetic","color":"black"},"encoding":{"x":{"datum":0.2,"axis":null},"y":{"datum":2.2},"text":{"field":"base"}}}
]},
{"width":534,"height":140,"layer":[
 {"data":{"name":"tDOS"},"mark":{"type":"line","color":"black","strokeWidth":3,"strokeJoin":"round"},"encoding":{"x":{"field":"e","type":"quantitative","scale":{"domain":[-17.9,5.8],"nice":false,"zero":false},"axis":{"values":[-16,-12,-8,-4,0,4],"title":"Energy (eV)"}},"y":{"field":"v","type":"quantitative","scale":{"domain":[0,78.9],"nice":false},"axis":{"values":[0,40]}}}},
 {"data":{"name":"labels"},"transform":[{"filter":"datum.p==='tDOS'"}],"mark":{"type":"rule","color":"black","strokeWidth":2.6,"strokeDash":[2.6,12.4]},"encoding":{"x":{"datum":0}}},
 {"data":{"name":"labels"},"transform":[{"filter":"datum.p==='tDOS'"}],"mark":{"type":"text","font":"Liberation Sans","fontSize":31,"align":"left","baseline":"alphabetic","color":"black"},"encoding":{"x":{"datum":0.2},"y":{"datum":54.6},"text":{"field":"base"}}}
]}
],
"spacing": 0,
"bounds": "flush",
"config": {
 "view": {"stroke": "black", "strokeWidth": 2.5},
 "concat": {"spacing": 0},
 "axisY": {"domain": false, "grid": false, "ticks": true, "tickSize": 11, "tickWidth": 2.5, "tickColor": "black", "labelFont": "Liberation Sans", "labelFontWeight": "bold", "labelFontSize": 18, "labelColor": "black", "labelPadding": 12, "title": null},
 "axisX": {"domain": false, "grid": false, "ticks": true, "tickSize": 9, "tickWidth": 2.5, "tickColor": "black", "labelFont": "DejaVu Sans", "labelFontSize": 23, "labelColor": "black", "labelPadding": 20, "labelFlush": false, "titleFont": "DejaVu Sans", "titleFontSize": 31, "titleFontWeight": "normal", "titleColor": "black", "titlePadding": 23}
}
}
